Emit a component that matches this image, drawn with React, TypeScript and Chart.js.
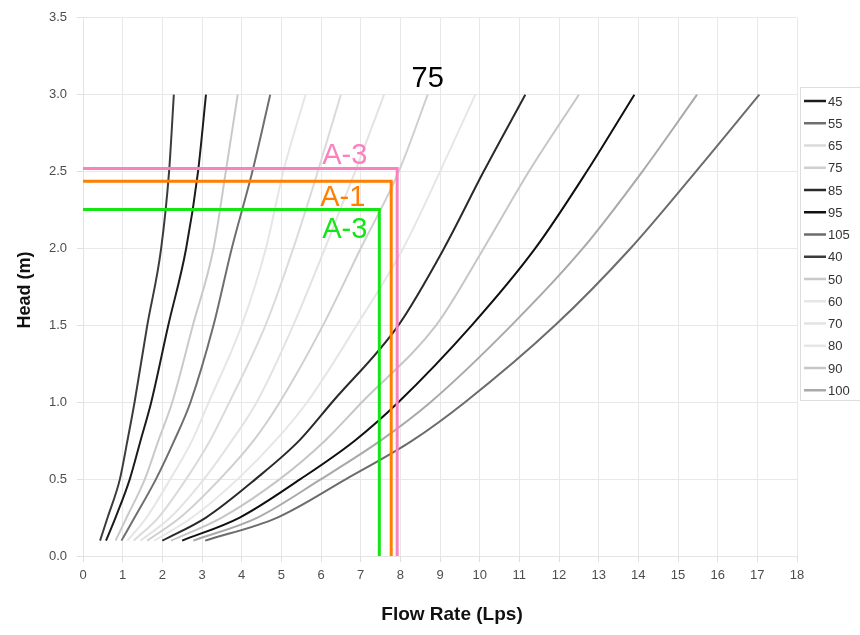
import React, { useEffect, useRef } from "react";
import { Chart, registerables } from "chart.js";

Chart.register(...registerables);

// Head values (m) at which flow rates were read
const HEADS = [0.1, 0.25, 0.5, 0.75, 1.0, 1.5, 2.0, 2.5, 3.0];

// Flow rate (Lps) for each curve, one value per head above
const FLOW_40 = [0.43, 0.62, 0.93, 1.12, 1.3, 1.62, 1.97, 2.17, 2.29];
const FLOW_45 = [0.58, 0.82, 1.18, 1.45, 1.72, 2.15, 2.6, 2.9, 3.1];
const FLOW_50 = [0.82, 1.1, 1.56, 1.9, 2.25, 2.77, 3.29, 3.6, 3.9];
const FLOW_55 = [0.97, 1.3, 1.84, 2.3, 2.71, 3.29, 3.75, 4.27, 4.72];
const FLOW_60 = [1.12, 1.6, 2.2, 2.75, 3.17, 4.0, 4.61, 5.05, 5.61];
const FLOW_65 = [1.28, 1.9, 2.6, 3.2, 3.69, 4.6, 5.3, 5.92, 6.5];
const FLOW_70 = [1.45, 2.2, 3.05, 3.75, 4.38, 5.3, 6.1, 6.86, 7.59];
const FLOW_75 = [1.62, 2.45, 3.45, 4.3, 4.96, 6.05, 7.0, 7.96, 8.69];
const FLOW_80 = [1.8, 2.75, 3.9, 4.85, 5.65, 6.9, 8.07, 9.0, 9.89];
const FLOW_85 = [2.0, 3.1, 4.35, 5.45, 6.28, 7.95, 9.1, 10.1, 11.15];
const FLOW_90 = [2.22, 3.5, 4.96, 6.1, 7.03, 8.9, 10.1, 11.24, 12.5];
const FLOW_95 = [2.5, 3.95, 5.48, 6.85, 7.95, 9.8, 11.4, 12.7, 13.9];
const FLOW_100 = [2.78, 4.4, 6.0, 7.5, 8.76, 10.8, 12.6, 14.1, 15.48];
const FLOW_105 = [3.08, 4.9, 6.63, 8.3, 9.63, 11.9, 13.8, 15.45, 17.05];

// Legend order
const SERIES_LABELS = ["45", "55", "65", "75", "85", "95", "105", "40", "50", "60", "70", "80", "90", "100"];
const SERIES_FLOWS: Record<string, number[]> = {
  "40": FLOW_40, "45": FLOW_45, "50": FLOW_50, "55": FLOW_55, "60": FLOW_60,
  "65": FLOW_65, "70": FLOW_70, "75": FLOW_75, "80": FLOW_80, "85": FLOW_85,
  "90": FLOW_90, "95": FLOW_95, "100": FLOW_100, "105": FLOW_105,
};
const SERIES_COLORS: Record<string, string> = {
  "40": "#3c3c3c", "45": "#1c1c1c", "50": "#c9c9c9", "55": "#6f6f6f", "60": "#e6e6e6",
  "65": "#dadada", "70": "#e3e3e3", "75": "#cfcfcf", "80": "#e6e6e6", "85": "#2a2a2a",
  "90": "#c6c6c6", "95": "#101010", "100": "#a9a9a9", "105": "#6c6c6c",
};

// Operating points: [label, flow (Lps), head (m)]
const OP_LABELS = ["A-3", "A-1", "A-3"];
const OP_FLOWS = [7.92, 7.77, 7.47];
const OP_HEADS = [2.52, 2.437, 2.253];
const OP_COLORS = ["#fb80bf", "#ff7f00", "#14e614"];

const FONT = 'Arial, "Liberation Sans", Helvetica, sans-serif';

export default function App() {
  const ref = useRef<HTMLCanvasElement | null>(null);

  useEffect(() => {
    if (!ref.current) return;

    const curveSets = SERIES_LABELS.map((lab) => ({
      label: lab,
      data: SERIES_FLOWS[lab].map((q, i) => ({ x: q, y: HEADS[i] })),
      borderColor: SERIES_COLORS[lab],
      backgroundColor: SERIES_COLORS[lab],
      borderWidth: 2,
      pointRadius: 0,
      showLine: true,
      cubicInterpolationMode: "monotone" as const,
      fill: false,
    }));

    const opSets = OP_LABELS.map((lab, i) => ({
      label: "op-" + lab + i,
      data: [
        { x: 0, y: OP_HEADS[i] },
        { x: OP_FLOWS[i], y: OP_HEADS[i] },
        { x: OP_FLOWS[i], y: 0 },
      ],
      borderColor: OP_COLORS[i],
      backgroundColor: OP_COLORS[i],
      borderWidth: 3,
      pointRadius: 0,
      showLine: true,
      tension: 0,
      fill: false,
    }));

    const overlay = {
      id: "overlay",
      afterDraw(chart: any) {
        const ctx = chart.ctx as CanvasRenderingContext2D;
        const xs = chart.scales.x;
        const ys = chart.scales.y;
        ctx.save();
        // operating point labels
        ctx.font = "29px " + FONT;
        ctx.textAlign = "center";
        ctx.textBaseline = "alphabetic";
        const labelPos = [
          [6.6, 2.547],
          [6.55, 2.275],
          [6.6, 2.067],
        ];
        OP_LABELS.forEach((lab, i) => {
          ctx.fillStyle = OP_COLORS[i];
          ctx.fillText(lab, xs.getPixelForValue(labelPos[i][0]), ys.getPixelForValue(labelPos[i][1]));
        });
        // "75" curve label at the end of the 75 curve
        const last = FLOW_75.length - 1;
        ctx.fillStyle = "#000";
        ctx.fillText("75", xs.getPixelForValue(FLOW_75[last]), ys.getPixelForValue(HEADS[last]) - 8);

        // axis titles
        ctx.fillStyle = "#111";
        ctx.font = "bold 19px " + FONT;
        ctx.textAlign = "center";
        ctx.textBaseline = "middle";
        ctx.fillText("Flow Rate (Lps)", 452, 615);
        ctx.save();
        ctx.translate(25, 290);
        ctx.rotate(-Math.PI / 2);
        ctx.font = "bold 18px " + FONT;
        ctx.fillText("Head (m)", 0, 0);
        ctx.restore();

        // legend
        const lx = 800;
        const ly = 87;
        ctx.strokeStyle = "#dddddd";
        ctx.lineWidth = 1;
        ctx.strokeRect(lx + 0.5, ly + 0.5, 80, 313);
        ctx.font = "13px " + FONT;
        ctx.textAlign = "left";
        ctx.textBaseline = "middle";
        SERIES_LABELS.forEach((lab, i) => {
          const y = 101 + i * 22.25;
          ctx.strokeStyle = SERIES_COLORS[lab];
          ctx.lineWidth = 2.5;
          ctx.beginPath();
          ctx.moveTo(804, y);
          ctx.lineTo(826, y);
          ctx.stroke();
          ctx.fillStyle = "#333";
          ctx.fillText(lab, 828, y + 1);
        });
        ctx.restore();
      },
    };

    const chart = new Chart(ref.current, {
      type: "scatter",
      data: { datasets: [...opSets, ...curveSets] as any },
      options: {
        responsive: false,
        animation: false,
        devicePixelRatio: 1,
        layout: { padding: { top: 16, right: 63, left: 0, bottom: 0 } },
        plugins: { legend: { display: false }, tooltip: { enabled: false } },
        scales: {
          x: {
            type: "linear",
            min: 0,
            max: 18,
            afterFit: (s: any) => { s.height = 79; },
            ticks: {
              stepSize: 1,
              autoSkip: false,
              maxRotation: 0,
              padding: 6,
              color: "#4d4d4d",
              font: { size: 13, family: FONT },
            },
            grid: { color: "#e8e8e8", tickColor: "#e0e0e0", tickLength: 6, lineWidth: 1 },
            border: { color: "#e4e4e4" },
          },
          y: {
            type: "linear",
            min: 0,
            max: 3.5,
            afterFit: (s: any) => { s.width = 83; },
            ticks: {
              stepSize: 0.5,
              padding: 10,
              color: "#4d4d4d",
              font: { size: 13, family: FONT },
              callback: (v: any) => Number(v).toFixed(1),
            },
            grid: { color: "#e8e8e8", tickColor: "#e0e0e0", tickLength: 6, lineWidth: 1 },
            border: { color: "#e4e4e4" },
          },
        },
      },
      plugins: [overlay],
    });

    return () => chart.destroy();
  }, []);

  return (
    <div style={{ position: "absolute", left: 0, top: 0, width: 860, height: 635, background: "#fff" }}>
      <canvas ref={ref} width={860} height={635} />
    </div>
  );
}
